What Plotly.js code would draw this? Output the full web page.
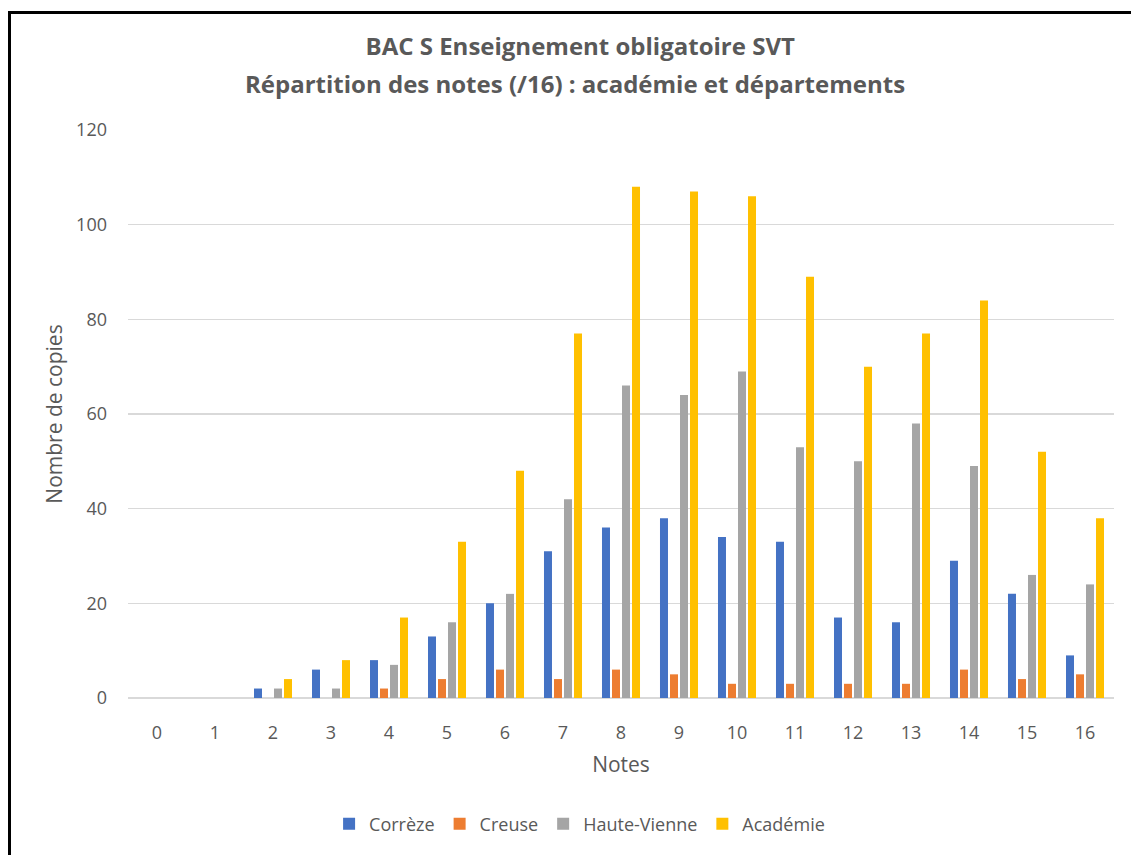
<!DOCTYPE html>
<html>
<head>
<meta charset="utf-8">
<script src="https://cdn.plot.ly/plotly-3.0.1.min.js"></script>
<style>
html,body{margin:0;padding:0;background:#fff;overflow:hidden;}
#chart{position:absolute;left:0;top:0;width:1131px;height:855px;}
#frame{position:absolute;left:8px;top:11px;width:1200px;height:900px;border-left:3px solid #000;border-top:3px solid #000;pointer-events:none;}
</style>
</head>
<body>
<div id="chart"></div>
<div id="frame"></div>
<script>
const notes = ["0","1","2","3","4","5","6","7","8","9","10","11","12","13","14","15","16"];
const correze = [0,0,2,6,8,13,20,31,36,38,34,33,17,16,29,22,9];
const creuse = [0,0,0,0,2,4,6,4,6,5,3,3,3,3,6,4,5];
const hauteVienne = [0,0,2,2,7,16,22,42,66,64,69,53,50,58,49,26,24];
const academie = [0,0,4,8,17,33,48,77,108,107,106,89,70,77,84,52,38];
const seriesNames = ["Corrèze","Creuse","Haute-Vienne","Académie"];
const colors = ["#4472C4","#ED7D31","#A5A5A5","#FFC000"];
const values = [correze, creuse, hauteVienne, academie];
const titleLine1 = "BAC S Enseignement obligatoire SVT";
const titleLine2 = "Répartition des notes (/16) : académie et départements";

const font = "Open Sans, Noto Sans, sans-serif";
const txt = "#595959";
const traces = values.map((v,i)=>({
  type:"bar", x:notes, y:v, name:seriesNames[i],
  marker:{color:colors[i], line:{width:0}},
  hoverinfo:"x+y+name"
}));

const layout = {
  width:1131, height:855,
  margin:{l:128, r:17, t:130, b:153},
  paper_bgcolor:"#ffffff", plot_bgcolor:"#ffffff",
  font:{family:font, color:txt, size:18},
  title:{text:"<b>"+titleLine1+"</b>",
    x:0.513, xanchor:"center", y:1-47/855, yanchor:"middle",
    font:{family:font, size:24, color:txt}},
  annotations:[{text:"<b>"+titleLine2+"</b>", xref:"paper", yref:"paper",
    x:(575-128)/986, xanchor:"center", y:(702-83)/572, yanchor:"middle",
    showarrow:false, font:{family:font, size:24, color:txt}}],
  barmode:"group", bargap:0.31, bargroupgap:0.2,
  xaxis:{type:"category", showgrid:false, zeroline:false, showline:false, ticks:"",
    tickfont:{size:18, color:txt}, ticklabelstandoff:22,
    title:{text:"Notes", font:{size:21, color:txt}, standoff:14}},
  yaxis:{range:[0,120], dtick:20, showgrid:true, gridcolor:"#D9D9D9", gridwidth:1.3,
    zeroline:true, zerolinecolor:"#D9D9D9", zerolinewidth:1.3, showline:false, ticks:"",
    tickfont:{size:18, color:txt}, ticklabelstandoff:20,
    title:{text:"Nombre de copies", font:{size:21, color:txt}, standoff:7}},
  legend:{orientation:"h", x:0.458, xanchor:"center", y:-0.222, yanchor:"middle",
    font:{size:18, color:txt}, traceorder:"normal", itemwidth:30},
  showlegend:true
};
Plotly.newPlot("chart", traces, layout, {staticPlot:true, displayModeBar:false});
</script>
</body>
</html>
